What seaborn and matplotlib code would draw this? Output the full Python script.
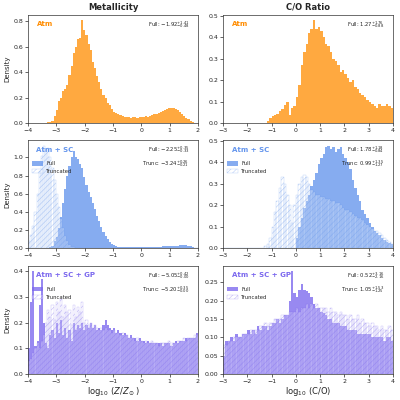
import numpy as np
import pandas as pd
import matplotlib
matplotlib.use("Agg")
import matplotlib.pyplot as plt
from matplotlib.patches import Patch
from matplotlib.colors import to_rgba
import seaborn as sns

# ---------------- data (bin heights, density) ----------------
Z_RANGE = (-4.0, 2.0)
Z_NBINS = 80
CO_RANGE = (-3.0, 4.0)
CO_NBINS = 70

z_atm = [0, 0, 0, 0, 0, 0, 0.002, 0.004, 0.004, 0.006,
         0.01, 0.02, 0.06, 0.10, 0.17, 0.20, 0.25, 0.27, 0.30, 0.38,
         0.45, 0.55, 0.60, 0.66, 0.67, 0.805, 0.73, 0.69, 0.62, 0.57,
         0.48, 0.43, 0.37, 0.32, 0.27, 0.22, 0.20, 0.16, 0.14, 0.11,
         0.09, 0.08, 0.075, 0.065, 0.06, 0.05, 0.045, 0.045, 0.04, 0.045,
         0.045, 0.04, 0.05, 0.045, 0.05, 0.055, 0.05, 0.06, 0.065, 0.07,
         0.075, 0.08, 0.085, 0.095, 0.10, 0.115, 0.12, 0.12, 0.12, 0.11,
         0.10, 0.085, 0.07, 0.055, 0.04, 0.03, 0.02, 0.012, 0.005, 0]

co_atm = [0] * 17 + [
    0.003, 0.012, 0.025, 0.035, 0.04, 0.045, 0.055, 0.065, 0.085, 0.10,
    0.04, 0.07, 0.08, 0.12, 0.18, 0.27, 0.33, 0.37, 0.42, 0.44,
    0.48, 0.44, 0.45, 0.43, 0.40, 0.37, 0.36, 0.33, 0.30, 0.29,
    0.27, 0.24, 0.25, 0.23, 0.21, 0.19, 0.20, 0.17, 0.16, 0.14,
    0.13, 0.12, 0.11, 0.10, 0.09, 0.08, 0.07, 0.09, 0.08, 0.08,
    0.09, 0.08, 0.07]

z_sc_full = [0] * 10 + [
    0.01, 0.03, 0.08, 0.13, 0.22, 0.35, 0.50, 0.65, 0.80, 0.90,
    1.00, 1.075, 1.00, 0.98, 0.93, 0.88, 0.78, 0.70, 0.62, 0.57,
    0.50, 0.43, 0.36, 0.30, 0.24, 0.18, 0.14, 0.10, 0.07, 0.05,
    0.035, 0.025, 0.02,
    0.018, 0.015, 0.015, 0.013, 0.015, 0.014, 0.015, 0.016, 0.015, 0.015,
    0.016, 0.017, 0.015, 0.016, 0.017, 0.018, 0.018, 0.019,
    0.02, 0.02, 0.021, 0.022, 0.022, 0.024, 0.025, 0.027, 0.028, 0.03,
    0.032, 0.034, 0.036, 0.035, 0.03, 0.022, 0.015, 0.008, 0.004]

z_sc_trunc = [0.08, 0.15, 0.25, 0.40, 0.60, 0.85, 1.02, 1.13, 1.08, 1.10,
              1.00, 0.88, 0.75, 0.60, 0.45, 0.32, 0.22, 0.14, 0.08, 0.04,
              0.02, 0.01] + [0] * 58

co_sc_full = [0] * 30 + [
    0.05, 0.10, 0.14, 0.19, 0.22, 0.25, 0.29, 0.32, 0.35, 0.39,
    0.42, 0.44, 0.47, 0.478, 0.46, 0.47, 0.45, 0.46, 0.47, 0.44,
    0.42, 0.40, 0.37, 0.32, 0.28, 0.25, 0.22, 0.18, 0.16, 0.14,
    0.12, 0.10, 0.08, 0.07, 0.06, 0.05, 0.04, 0.03, 0.025, 0.02]

co_sc_trunc = [0] * 17 + [
    0.01, 0.02, 0.05, 0.10, 0.17, 0.22, 0.28, 0.33, 0.30, 0.25,
    0.20, 0.12, 0.20,
    0.25, 0.30, 0.33, 0.34, 0.33, 0.30, 0.27, 0.26, 0.25, 0.25,
    0.24, 0.24, 0.23, 0.23, 0.22, 0.22, 0.21, 0.21, 0.20, 0.19,
    0.18, 0.18, 0.17, 0.16, 0.15, 0.14, 0.14, 0.13, 0.12, 0.11,
    0.10, 0.09, 0.08, 0.08, 0.07, 0.06, 0.05, 0.04, 0.03, 0.02]

z_gp_full = [0.10, 0.28, 0.40, 0.11, 0.13, 0.27, 0.37, 0.20, 0.12, 0.10,
             0.15, 0.17, 0.14, 0.20, 0.16, 0.21, 0.15, 0.18, 0.14, 0.17,
             0.13, 0.20, 0.17, 0.19, 0.18, 0.20, 0.17, 0.19, 0.18, 0.20,
             0.18, 0.19, 0.17, 0.18, 0.17, 0.19, 0.21, 0.19, 0.18, 0.17,
             0.18, 0.16, 0.17, 0.16, 0.15, 0.16, 0.15, 0.14, 0.15, 0.14,
             0.14, 0.13, 0.14, 0.13, 0.13, 0.12, 0.13, 0.12, 0.12, 0.12,
             0.12, 0.12, 0.12, 0.11, 0.12, 0.12, 0.12, 0.11, 0.12, 0.13,
             0.12, 0.13, 0.13, 0.13, 0.14, 0.14, 0.14, 0.14, 0.14, 0.16]

z_gp_trunc = [0.05, 0.06, 0.08, 0.10, 0.12, 0.10, 0.13, 0.15, 0.20, 0.25,
              0.22, 0.27, 0.21, 0.28, 0.24, 0.29, 0.22, 0.27, 0.24, 0.25,
              0.19, 0.27, 0.22, 0.26, 0.24, 0.28, 0.20, 0.21, 0.19, 0.20,
              0.18, 0.19, 0.18, 0.17, 0.18, 0.17, 0.18, 0.17, 0.17, 0.16,
              0.17, 0.16, 0.16, 0.15, 0.16, 0.15, 0.15, 0.14, 0.14, 0.14,
              0.13, 0.14, 0.13, 0.13, 0.12, 0.13, 0.12, 0.12, 0.13, 0.12,
              0.12, 0.11, 0.12, 0.12, 0.12, 0.12, 0.13, 0.12, 0.12, 0.12,
              0.13, 0.13, 0.13, 0.14, 0.13, 0.14, 0.14, 0.14, 0.15, 0.15]

co_gp_full = [0.05, 0.09, 0.09, 0.10, 0.09, 0.11, 0.10, 0.10, 0.11, 0.11,
              0.12, 0.11, 0.12, 0.11, 0.13, 0.12, 0.13, 0.13, 0.12, 0.13,
              0.14, 0.14, 0.15, 0.14, 0.15, 0.16, 0.16, 0.20, 0.28, 0.22,
              0.21, 0.23, 0.245, 0.23, 0.225, 0.22, 0.21, 0.19, 0.18, 0.18,
              0.17, 0.165, 0.16, 0.15, 0.15, 0.14, 0.14, 0.14, 0.13, 0.13,
              0.13, 0.12, 0.12, 0.12, 0.12, 0.11, 0.11, 0.11, 0.11, 0.11,
              0.11, 0.10, 0.10, 0.10, 0.10, 0.10, 0.09, 0.10, 0.10, 0.09]

co_gp_trunc = [0.08, 0.08, 0.09, 0.09, 0.10, 0.10, 0.10, 0.10, 0.11, 0.11,
               0.11, 0.12, 0.12, 0.12, 0.12, 0.13, 0.13, 0.14, 0.13, 0.14,
               0.14, 0.15, 0.15, 0.15, 0.16, 0.16, 0.16, 0.17, 0.17, 0.17,
               0.18, 0.17, 0.18, 0.18, 0.19, 0.18, 0.19, 0.18, 0.19, 0.18,
               0.18, 0.18, 0.18, 0.17, 0.18, 0.17, 0.17, 0.16, 0.17, 0.16,
               0.16, 0.15, 0.16, 0.15, 0.15, 0.16, 0.14, 0.15, 0.14, 0.14,
               0.13, 0.14, 0.13, 0.13, 0.12, 0.13, 0.12, 0.12, 0.13, 0.12]

row_labels = ["Atm", "Atm + SC", "Atm + SC + GP"]
row_colors = ["darkorange", "cornflowerblue", "mediumslateblue"]
col_titles = ["Metallicity", "C/O Ratio"]
col_xlabels = [r"$\log_{10}\,(Z/Z_\odot)$", r"$\log_{10}\,(\mathrm{C/O})$"]
full_texts = [
    [r"Full: $-1.92^{+1.41}_{-0.48}$", r"Full: $1.27^{+1.76}_{-0.88}$"],
    [r"Full: $-2.25^{+0.35}_{-0.33}$", r"Full: $1.78^{+1.18}_{-0.84}$"],
    [r"Full: $-5.05^{+0.42}_{-0.00}$", r"Full: $0.52^{+3.16}_{-2.16}$"],
]
trunc_texts = [
    [None, None],
    [r"Trunc: $-3.24^{+0.26}_{-0.21}$", r"Trunc: $0.99^{+1.35}_{-1.27}$"],
    [r"Trunc: $-5.20^{+0.35}_{-0.00}$", r"Trunc: $1.05^{+1.53}_{-1.25}$"],
]

# ---------------- style ----------------
sns.set_style("ticks")
plt.rcParams.update({
    "font.family": ["DejaVu Sans"],
    "axes.linewidth": 0.5,
    "axes.edgecolor": "#333333",
    "xtick.major.size": 2.0,
    "ytick.major.size": 2.0,
    "xtick.major.width": 0.5,
    "ytick.major.width": 0.5,
    "xtick.major.pad": 1.5,
    "ytick.major.pad": 1.5,
    "xtick.labelsize": 4.5,
    "ytick.labelsize": 4.5,
    "hatch.linewidth": 0.4,
})

fig = plt.figure(figsize=(4, 4), dpi=100)
col_left = [0.07, 0.5575]
col_w = 0.425
row_bottom = [0.692, 0.379, 0.065]
row_h = 0.27

z_edges = np.linspace(Z_RANGE[0], Z_RANGE[1], Z_NBINS + 1)
co_edges = np.linspace(CO_RANGE[0], CO_RANGE[1], CO_NBINS + 1)
edges_cols = [z_edges, co_edges]
ranges = [Z_RANGE, CO_RANGE]

data = [
    [(z_atm, None), (co_atm, None)],
    [(z_sc_full, z_sc_trunc), (co_sc_full, co_sc_trunc)],
    [(z_gp_full, z_gp_trunc), (co_gp_full, co_gp_trunc)],
]

for r in range(3):
    color = row_colors[r]
    for c in range(2):
        ax = fig.add_axes([col_left[c], row_bottom[r], col_w, row_h])
        edges = edges_cols[c]
        centers = 0.5 * (edges[:-1] + edges[1:])
        bin_list = [float(e) for e in edges]
        full, trunc = data[r][c]
        df_full = pd.DataFrame({"x": centers, "w": np.asarray(full, float)})
        sns.histplot(data=df_full, x="x", weights="w", bins=bin_list,
                     stat="count", ax=ax, element="bars",
                     facecolor=to_rgba(color, 0.78 if r > 0 else 0.75),
                     edgecolor="none", linewidth=0)
        if trunc is not None:
            df_tr = pd.DataFrame({"x": centers, "w": np.asarray(trunc, float)})
            sns.histplot(data=df_tr, x="x", weights="w", bins=bin_list,
                         stat="count", ax=ax, element="bars",
                         facecolor=(1, 1, 1, 0.3),
                         edgecolor=to_rgba(color, 0.45),
                         linewidth=0.3, hatch="//////")
        ax.set_xlim(*ranges[c])
        ax.set_ylim(0, max(max(full), max(trunc) if trunc is not None else 0) * 1.05)
        ax.set_xlabel(col_xlabels[c] if r == 2 else "", fontsize=6, labelpad=1)
        ax.set_ylabel("Density" if c == 0 else "", fontsize=5, labelpad=2)
        if r == 0:
            ax.set_title(col_titles[c], fontsize=6, fontweight="bold", pad=4)
        ax.text(0.05, 0.915, row_labels[r], transform=ax.transAxes,
                color=color, fontsize=5, fontweight="bold", va="center", ha="left")
        ax.text(0.95, 0.915, full_texts[r][c], transform=ax.transAxes,
                fontsize=3.8, va="center", ha="right")
        if trunc_texts[r][c] is not None:
            ax.text(0.95, 0.785, trunc_texts[r][c], transform=ax.transAxes,
                    fontsize=3.8, va="center", ha="right")
            handles = [
                Patch(facecolor=to_rgba(color, 0.78), edgecolor="none", label="Full"),
                Patch(facecolor=(1, 1, 1, 0.3), edgecolor=to_rgba(color, 0.45),
                      linewidth=0.3, hatch="//////", label="Truncated"),
            ]
            ax.legend(handles=handles, loc="upper left", bbox_to_anchor=(0.0, 0.84),
                      fontsize=3.8, frameon=False, handlelength=2.2, handleheight=0.9,
                      labelspacing=0.5, handletextpad=0.6, borderaxespad=0.3)
        sns.despine(ax=ax, top=False, right=False)

fig.savefig("out.png", dpi=100)
